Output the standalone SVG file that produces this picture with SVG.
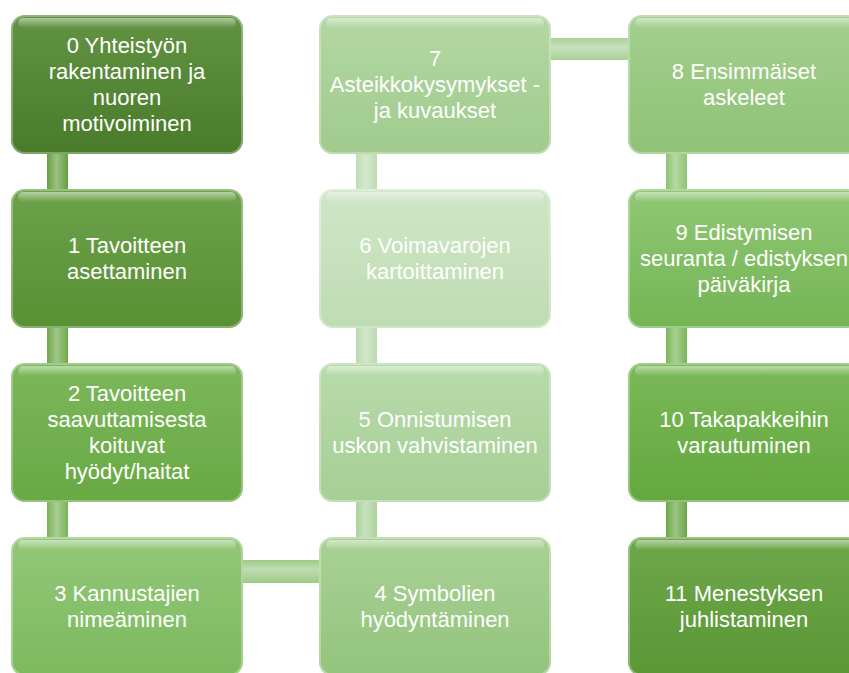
<svg xmlns="http://www.w3.org/2000/svg" width="849" height="673" viewBox="0 0 849 673">
<style>
.t{font-family:"Liberation Sans",Arial,sans-serif;font-size:22px;fill:#ffffff;text-anchor:middle}
.edge{fill:none;stroke:#ffffff;stroke-opacity:0.3;stroke-width:2}
.band{fill:url(#gloss)}
</style>
<defs>
<linearGradient id="gloss" x1="0" y1="0" x2="0" y2="1">
<stop offset="0" stop-color="#fff" stop-opacity="0.5"/>
<stop offset="1" stop-color="#fff" stop-opacity="0"/>
</linearGradient>
<linearGradient id="vbar" x1="0" y1="0" x2="1" y2="0">
<stop offset="0" stop-color="#fff" stop-opacity="0"/>
<stop offset="0.45" stop-color="#fff" stop-opacity="0.35"/>
<stop offset="1" stop-color="#fff" stop-opacity="0"/>
</linearGradient>
<linearGradient id="hbar" x1="0" y1="0" x2="0" y2="1">
<stop offset="0" stop-color="#fff" stop-opacity="0"/>
<stop offset="0.4" stop-color="#fff" stop-opacity="0.35"/>
<stop offset="1" stop-color="#fff" stop-opacity="0"/>
</linearGradient>
<linearGradient id="g0" x1="0" y1="0" x2="0" y2="1"><stop offset="0" stop-color="#629343"/><stop offset="1" stop-color="#4a7b2a"/></linearGradient>
<linearGradient id="g1" x1="0" y1="0" x2="0" y2="1"><stop offset="0" stop-color="#6ca24a"/><stop offset="1" stop-color="#589034"/></linearGradient>
<linearGradient id="g2" x1="0" y1="0" x2="0" y2="1"><stop offset="0" stop-color="#7cb75a"/><stop offset="1" stop-color="#68a944"/></linearGradient>
<linearGradient id="g3" x1="0" y1="0" x2="0" y2="1"><stop offset="0" stop-color="#93c779"/><stop offset="1" stop-color="#7cba5e"/></linearGradient>
<linearGradient id="g4" x1="0" y1="0" x2="0" y2="1"><stop offset="0" stop-color="#a9d196"/><stop offset="1" stop-color="#93c47c"/></linearGradient>
<linearGradient id="g5" x1="0" y1="0" x2="0" y2="1"><stop offset="0" stop-color="#b8daab"/><stop offset="1" stop-color="#a6cf95"/></linearGradient>
<linearGradient id="g6" x1="0" y1="0" x2="0" y2="1"><stop offset="0" stop-color="#d0e6c7"/><stop offset="1" stop-color="#bedcb3"/></linearGradient>
<linearGradient id="g7" x1="0" y1="0" x2="0" y2="1"><stop offset="0" stop-color="#b4d7a4"/><stop offset="1" stop-color="#a0cb8d"/></linearGradient>
<linearGradient id="g8" x1="0" y1="0" x2="0" y2="1"><stop offset="0" stop-color="#a4cf8e"/><stop offset="1" stop-color="#8fc276"/></linearGradient>
<linearGradient id="g9" x1="0" y1="0" x2="0" y2="1"><stop offset="0" stop-color="#90c775"/><stop offset="1" stop-color="#74b554"/></linearGradient>
<linearGradient id="g10" x1="0" y1="0" x2="0" y2="1"><stop offset="0" stop-color="#7ab858"/><stop offset="1" stop-color="#63a83e"/></linearGradient>
<linearGradient id="g11" x1="0" y1="0" x2="0" y2="1"><stop offset="0" stop-color="#6ea74b"/><stop offset="1" stop-color="#5a9735"/></linearGradient>
</defs>

<g id="connectors">
<rect x="47" y="154" width="21" height="35" fill="#66a042"/><rect x="47" y="154" width="21" height="35" fill="url(#vbar)"/>
<rect x="47" y="328" width="21" height="35" fill="#6ea94a"/><rect x="47" y="328" width="21" height="35" fill="url(#vbar)"/>
<rect x="47" y="502" width="21" height="35" fill="#78b457"/><rect x="47" y="502" width="21" height="35" fill="url(#vbar)"/>
<rect x="243" y="560" width="76" height="23" fill="#9dca87"/><rect x="243" y="560" width="76" height="23" fill="url(#hbar)"/>
<rect x="356" y="502" width="21" height="35" fill="#acd29b"/><rect x="356" y="502" width="21" height="35" fill="url(#vbar)"/>
<rect x="356" y="328" width="21" height="35" fill="#bcdab0"/><rect x="356" y="328" width="21" height="35" fill="url(#vbar)"/>
<rect x="356" y="154" width="21" height="35" fill="#bfdcb3"/><rect x="356" y="154" width="21" height="35" fill="url(#vbar)"/>
<rect x="551" y="38" width="77" height="22" fill="#a9d198"/><rect x="551" y="38" width="77" height="22" fill="url(#hbar)"/>
<rect x="666" y="154" width="21" height="35" fill="#8dc373"/><rect x="666" y="154" width="21" height="35" fill="url(#vbar)"/>
<rect x="666" y="328" width="21" height="35" fill="#79b658"/><rect x="666" y="328" width="21" height="35" fill="url(#vbar)"/>
<rect x="666" y="502" width="21" height="35" fill="#69a645"/><rect x="666" y="502" width="21" height="35" fill="url(#vbar)"/>
</g>

<g id="n0">
<rect x="11" y="15" width="232" height="139" rx="14" fill="url(#g0)"/>
<rect x="12" y="16" width="230" height="137" rx="13" class="edge"/>
<rect x="18" y="18" width="218" height="10" rx="5" class="band"/>
<text class="t"><tspan x="127" y="53">0 Yhteistyön</tspan><tspan x="127" y="79">rakentaminen ja</tspan><tspan x="127" y="105">nuoren</tspan><tspan x="127" y="131">motivoiminen</tspan></text>
</g>
<g id="n1">
<rect x="11" y="189" width="232" height="139" rx="14" fill="url(#g1)"/>
<rect x="12" y="190" width="230" height="137" rx="13" class="edge"/>
<rect x="18" y="192" width="218" height="10" rx="5" class="band"/>
<text class="t"><tspan x="127" y="253">1 Tavoitteen</tspan><tspan x="127" y="279">asettaminen</tspan></text>
</g>
<g id="n2">
<rect x="11" y="363" width="232" height="139" rx="14" fill="url(#g2)"/>
<rect x="12" y="364" width="230" height="137" rx="13" class="edge"/>
<rect x="18" y="366" width="218" height="10" rx="5" class="band"/>
<text class="t"><tspan x="127" y="401">2 Tavoitteen</tspan><tspan x="127" y="427">saavuttamisesta</tspan><tspan x="127" y="453">koituvat</tspan><tspan x="127" y="479">hyödyt/haitat</tspan></text>
</g>
<g id="n3">
<rect x="11" y="537" width="232" height="139" rx="14" fill="url(#g3)"/>
<rect x="12" y="538" width="230" height="137" rx="13" class="edge"/>
<rect x="18" y="540" width="218" height="10" rx="5" class="band"/>
<text class="t"><tspan x="127" y="601">3 Kannustajien</tspan><tspan x="127" y="627">nimeäminen</tspan></text>
</g>
<g id="n4">
<rect x="319" y="537" width="232" height="139" rx="14" fill="url(#g4)"/>
<rect x="320" y="538" width="230" height="137" rx="13" class="edge"/>
<rect x="326" y="540" width="218" height="10" rx="5" class="band"/>
<text class="t"><tspan x="435" y="601">4 Symbolien</tspan><tspan x="435" y="627">hyödyntäminen</tspan></text>
</g>
<g id="n5">
<rect x="319" y="363" width="232" height="139" rx="14" fill="url(#g5)"/>
<rect x="320" y="364" width="230" height="137" rx="13" class="edge"/>
<rect x="326" y="366" width="218" height="10" rx="5" class="band"/>
<text class="t"><tspan x="435" y="427">5 Onnistumisen</tspan><tspan x="435" y="453">uskon vahvistaminen</tspan></text>
</g>
<g id="n6">
<rect x="319" y="189" width="232" height="139" rx="14" fill="url(#g6)"/>
<rect x="320" y="190" width="230" height="137" rx="13" class="edge"/>
<rect x="326" y="192" width="218" height="10" rx="5" class="band"/>
<text class="t"><tspan x="435" y="253">6 Voimavarojen</tspan><tspan x="435" y="279">kartoittaminen</tspan></text>
</g>
<g id="n7">
<rect x="319" y="15" width="232" height="139" rx="14" fill="url(#g7)"/>
<rect x="320" y="16" width="230" height="137" rx="13" class="edge"/>
<rect x="326" y="18" width="218" height="10" rx="5" class="band"/>
<text class="t"><tspan x="435" y="66">7</tspan><tspan x="435" y="92">Asteikkokysymykset -</tspan><tspan x="435" y="118">ja kuvaukset</tspan></text>
</g>
<g id="n8">
<rect x="628" y="15" width="232" height="139" rx="14" fill="url(#g8)"/>
<rect x="629" y="16" width="230" height="137" rx="13" class="edge"/>
<rect x="635" y="18" width="218" height="10" rx="5" class="band"/>
<text class="t"><tspan x="744" y="79">8 Ensimmäiset</tspan><tspan x="744" y="105">askeleet</tspan></text>
</g>
<g id="n9">
<rect x="628" y="189" width="232" height="139" rx="14" fill="url(#g9)"/>
<rect x="629" y="190" width="230" height="137" rx="13" class="edge"/>
<rect x="635" y="192" width="218" height="10" rx="5" class="band"/>
<text class="t"><tspan x="744" y="240">9 Edistymisen</tspan><tspan x="744" y="266">seuranta / edistyksen</tspan><tspan x="744" y="292">päiväkirja</tspan></text>
</g>
<g id="n10">
<rect x="628" y="363" width="232" height="139" rx="14" fill="url(#g10)"/>
<rect x="629" y="364" width="230" height="137" rx="13" class="edge"/>
<rect x="635" y="366" width="218" height="10" rx="5" class="band"/>
<text class="t"><tspan x="744" y="427">10 Takapakkeihin</tspan><tspan x="744" y="453">varautuminen</tspan></text>
</g>
<g id="n11">
<rect x="628" y="537" width="232" height="139" rx="14" fill="url(#g11)"/>
<rect x="629" y="538" width="230" height="137" rx="13" class="edge"/>
<rect x="635" y="540" width="218" height="10" rx="5" class="band"/>
<text class="t"><tspan x="744" y="601">11 Menestyksen</tspan><tspan x="744" y="627">juhlistaminen</tspan></text>
</g>
</svg>
